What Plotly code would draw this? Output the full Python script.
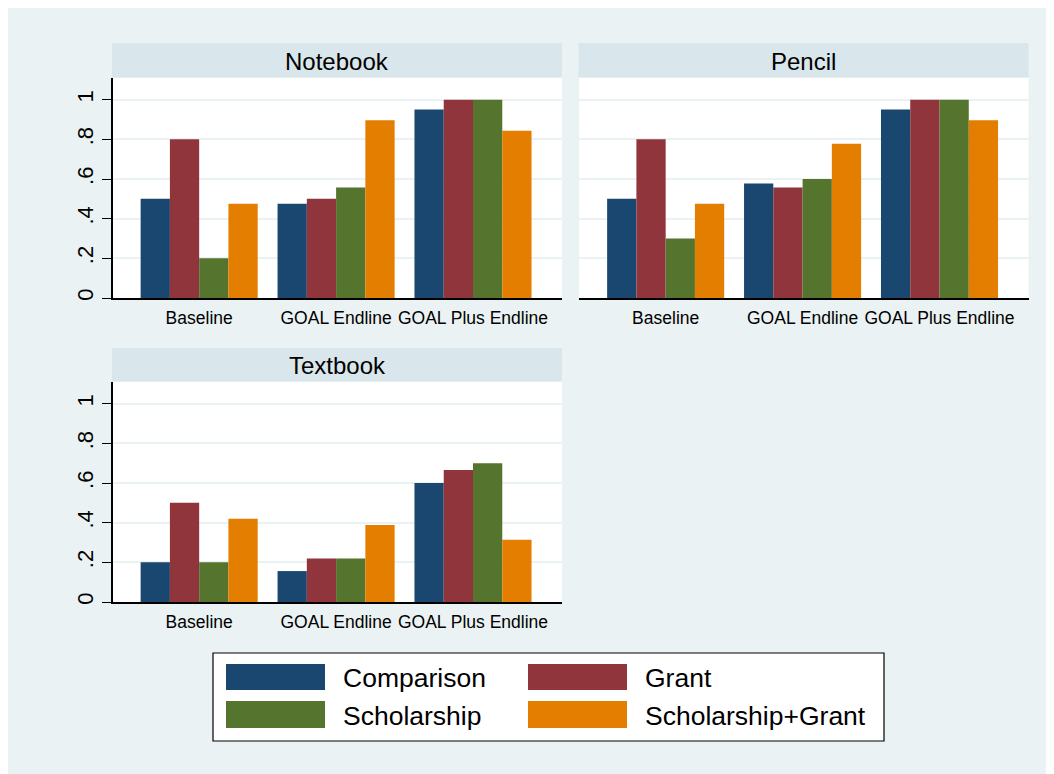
import plotly.graph_objects as go

# ---------------- data ----------------
categories = ["Baseline", "GOAL Endline", "GOAL Plus Endline"]
series_names = ["Comparison", "Grant", "Scholarship", "Scholarship+Grant"]
series_colors = ["#1A476F", "#90353B", "#55752F", "#E37E00"]

notebook_comparison = [0.50, 0.475, 0.95]
notebook_grant = [0.80, 0.50, 1.00]
notebook_scholarship = [0.20, 0.557, 1.00]
notebook_scholarship_grant = [0.475, 0.896, 0.843]

pencil_comparison = [0.50, 0.578, 0.95]
pencil_grant = [0.80, 0.557, 1.00]
pencil_scholarship = [0.30, 0.60, 1.00]
pencil_scholarship_grant = [0.475, 0.778, 0.896]

textbook_comparison = [0.20, 0.156, 0.60]
textbook_grant = [0.50, 0.22, 0.666]
textbook_scholarship = [0.20, 0.22, 0.70]
textbook_scholarship_grant = [0.42, 0.388, 0.314]

panel_titles = ["Notebook", "Pencil", "Textbook"]
y_tickvals = [0, 0.2, 0.4, 0.6, 0.8, 1.0]
y_ticktext = ["0", ".2", ".4", ".6", ".8", "1"]

panels = [
    [notebook_comparison, notebook_grant, notebook_scholarship, notebook_scholarship_grant],
    [pencil_comparison, pencil_grant, pencil_scholarship, pencil_scholarship_grant],
    [textbook_comparison, textbook_grant, textbook_scholarship, textbook_scholarship_grant],
]

# ---------------- layout geometry (window pixels) ----------------
W, H = 1054, 774
OX, OY = 8, 8          # page body margin offset
FONT = "Liberation Sans, Arial, sans-serif"
BG = "#EAF2F3"
STRIP = "#D9E6EB"


def px_x(x):
    return (x - OX) / W


def px_y(y):
    return 1 - (y - OY) / H


# (left, right, top, bottom) of each plot area, and strip top
panel_boxes = [
    (112.5, 562, 77.5, 298, 43),
    (579, 1028.5, 77.5, 298, 43),
    (112.5, 562, 381.5, 602, 348),
]

fig = go.Figure()

for p, (values, box) in enumerate(zip(panels, panel_boxes)):
    sfx = "" if p == 0 else str(p + 1)
    for name, color, vals in zip(series_names, series_colors, values):
        fig.add_trace(go.Bar(
            x=categories, y=vals, name=name,
            marker=dict(color=color, line=dict(width=0)),
            xaxis="x" + sfx, yaxis="y" + sfx, showlegend=False,
            hoverinfo="x+y+name",
        ))

layout = dict(
    width=W, height=H,
    margin=dict(l=0, r=0, t=0, b=0),
    paper_bgcolor=BG, plot_bgcolor="white",
    barmode="group", bargap=0.145, bargroupgap=0,
    font=dict(family=FONT, color="black"),
    showlegend=False,
)

shapes = []
annotations = []

for p, (l, r, t, b, st) in enumerate(panel_boxes):
    sfx = "" if p == 0 else str(p + 1)
    left_col = p != 1
    layout["xaxis" + sfx] = dict(
        domain=[px_x(l), px_x(r)], anchor="y" + sfx,
        range=[-0.633, 2.650], type="category",
        showline=True, linecolor="black", linewidth=1.5,
        ticks="", showgrid=False, zeroline=False,
        tickfont=dict(size=17.5, color="black", family=FONT),
        ticklabelstandoff=3,
        automargin=False, fixedrange=True,
    )
    layout["yaxis" + sfx] = dict(
        domain=[px_y(b), px_y(t)], anchor="x" + sfx,
        range=[0, 1.112],
        tickvals=y_tickvals, ticktext=y_ticktext,
        showticklabels=left_col,
        ticks="outside" if left_col else "", ticklen=9, tickwidth=1.3, tickcolor="black",
        tickangle=-90,
        ticklabelstandoff=0,
        showline=left_col, linecolor="black", linewidth=1.5,
        showgrid=True, gridcolor=BG, gridwidth=1.5, zeroline=False,
        tickfont=dict(size=22, color="black", family=FONT),
        automargin=False, fixedrange=True,
    )
    # strip header
    shapes.append(dict(type="rect", xref="paper", yref="paper",
                       x0=px_x(l - 0.5), x1=px_x(r), y0=px_y(t), y1=px_y(st),
                       fillcolor=STRIP, line=dict(width=0), layer="below"))
    annotations.append(dict(text=panel_titles[p], xref="paper", yref="paper",
                            x=px_x((l + r) / 2), y=px_y((st + t) / 2 + 1),
                            xanchor="center", yanchor="middle", showarrow=False,
                            font=dict(size=24, color="black", family=FONT)))

# custom legend (large swatches like the original)
lg_l, lg_r, lg_t, lg_b = 213, 884, 653, 741
shapes.append(dict(type="rect", xref="paper", yref="paper",
                   x0=px_x(lg_l), x1=px_x(lg_r), y0=px_y(lg_b), y1=px_y(lg_t),
                   fillcolor="white", line=dict(color="black", width=1.2), layer="above"))
col_x = [226, 528]
row_y = [(664, 690), (701, 728)]
for i, (name, color) in enumerate(zip(series_names, series_colors)):
    cx = col_x[i % 2]
    ry0, ry1 = row_y[i // 2]
    shapes.append(dict(type="rect", xref="paper", yref="paper",
                       x0=px_x(cx), x1=px_x(cx + 99), y0=px_y(ry1), y1=px_y(ry0),
                       fillcolor=color, line=dict(width=0), layer="above"))
    annotations.append(dict(text=name, xref="paper", yref="paper",
                            x=px_x(cx + 115), y=px_y((ry0 + ry1) / 2 + 1),
                            xanchor="left", yanchor="middle", showarrow=False,
                            font=dict(size=26.5, color="black", family=FONT)))

layout["shapes"] = shapes
layout["annotations"] = annotations
fig.update_layout(**layout)

fig.write_html("out.html")
